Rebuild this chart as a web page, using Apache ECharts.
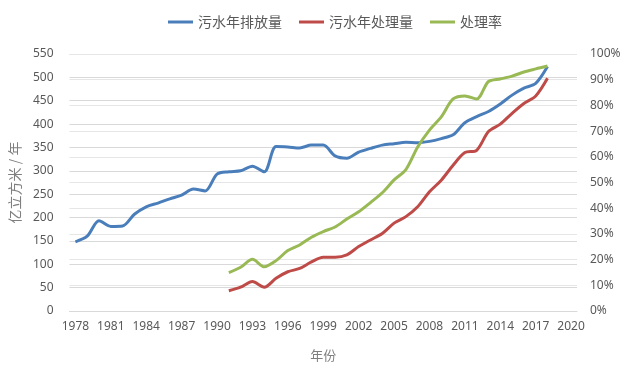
<!DOCTYPE html>
<html>
<head>
<meta charset="utf-8">
<script src="https://cdn.jsdelivr.net/npm/echarts@6/dist/echarts.min.js"></script>
<style>html,body{margin:0;padding:0;background:#fff;}#c{width:630px;height:381px;}</style>
</head>
<body>
<div id="c"></div>
<script>
var years = ['1978','1979','1980','1981','1982','1983','1984','1985','1986','1987','1988','1989','1990','1991','1992','1993','1994','1995','1996','1997','1998','1999','2000','2001','2002','2003','2004','2005','2006','2007','2008','2009','2010','2011','2012','2013','2014','2015','2016','2017','2018','2019','2020'];
// 1978-2018
var discharge = [148,160,193,181,182,207,223,231,240,248,261,257,293,298,300,310,298,352,351,349,355,355,332,327,340,348,355,358,361,360,363,369,377,403,416,427,443,462,477,487,523];
// 1991-2018
var treated = [43.5,51,63,51,70,84,91,105,115,115,120,138,152,166,188,202,223,255,280,312,339,344,384,400,423,444,460,498];
// 1991-2018, percent
var rate = [14.9,17,20.1,17.2,19.6,23.5,25.7,28.7,30.9,32.7,35.8,38.6,42.2,46,51,55,63.8,70.4,75.5,82.5,83.7,82.5,89.3,90.3,91.4,93,94.2,95.3];
var seriesNames = ['污水年排放量','污水年处理量','处理率'];

function alignTo(arr, startYear) {
  var out = [];
  for (var i = 0; i < years.length; i++) {
    var idx = parseInt(years[i], 10) - startYear;
    out.push(idx >= 0 && idx < arr.length ? arr[idx] : null);
  }
  return out;
}

var txt = '#595959';
var grid = '#d9d9d9';
var chart = echarts.init(document.getElementById('c'));
chart.setOption({
  animation: false,
  textStyle: {fontFamily: 'Noto Sans, Noto Sans CJK SC, sans-serif'},
  color: ['#4a7ebb', '#be4b48', '#98b954'],
  legend: {
    top: 10, left: 163,
    icon: 'rect', itemWidth: 25, itemHeight: 3, itemGap: 17,
    textStyle: {color: txt, fontSize: 14, fontFamily: 'Noto Sans CJK SC'},
    data: seriesNames
  },
  grid: {left: 61, right: 53, top: 54, bottom: 70},
  xAxis: {
    type: 'category', data: years, boundaryGap: true,
    name: '年份', nameLocation: 'middle', nameGap: 38,
    nameTextStyle: {color: '#7f7f7f', fontSize: 13, fontFamily: 'Noto Sans CJK SC'},
    axisLine: {lineStyle: {color: grid}},
    axisTick: {interval: 2, length: 4, lineStyle: {color: grid}},
    axisLabel: {interval: 2, color: txt, fontSize: 12, margin: 10}
  },
  yAxis: [{
    type: 'value', min: 0, max: 550, interval: 50,
    name: '亿立方米 / 年', nameLocation: 'middle', nameGap: 46, nameRotate: 90,
    nameTextStyle: {color: '#7f7f7f', fontSize: 14, fontFamily: 'Noto Sans CJK SC'},
    axisLine: {show: false}, axisTick: {show: false},
    axisLabel: {color: txt, fontSize: 12, margin: 16},
    splitLine: {lineStyle: {color: grid}}
  }, {
    type: 'value', min: 0, max: 100, interval: 10,
    axisLine: {show: false}, axisTick: {show: false},
    axisLabel: {color: txt, fontSize: 12, margin: 13, formatter: '{value}%'},
    splitLine: {show: true, lineStyle: {color: '#e6e6e6'}}
  }],
  series: [{
    name: seriesNames[0], type: 'line', yAxisIndex: 0, data: alignTo(discharge, 1978),
    smooth: 0.3, showSymbol: false, lineStyle: {width: 3}
  }, {
    name: seriesNames[1], type: 'line', yAxisIndex: 0, data: alignTo(treated, 1991),
    smooth: 0.3, showSymbol: false, lineStyle: {width: 3}
  }, {
    name: seriesNames[2], type: 'line', yAxisIndex: 1, data: alignTo(rate, 1991),
    smooth: 0.3, showSymbol: false, lineStyle: {width: 3}
  }]
});
</script>
</body>
</html>
